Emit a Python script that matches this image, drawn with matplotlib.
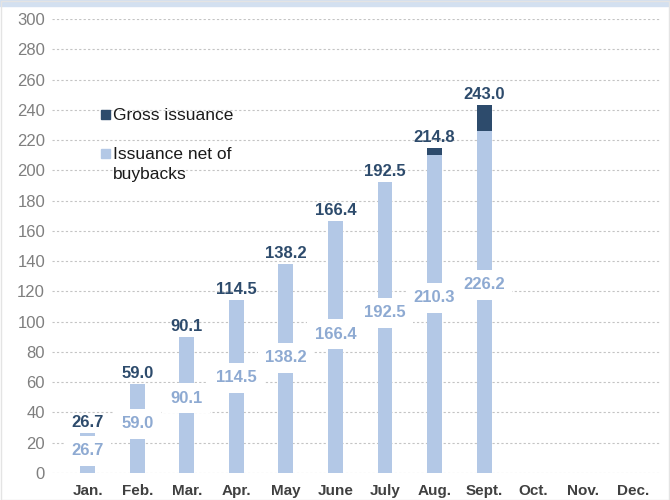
import matplotlib.pyplot as plt
import matplotlib.patches as mpatches

# ── Data ──────────────────────────────────────────────────────
months = ['Jan.', 'Feb.', 'Mar.', 'Apr.', 'May', 'June', 'July',
          'Aug.', 'Sept.', 'Oct.', 'Nov.', 'Dec.']
gross  = [26.7, 59.0, 90.1, 114.5, 138.2, 166.4, 192.5, 214.8, 243.0]
net    = [26.7, 59.0, 90.1, 114.5, 138.2, 166.4, 192.5, 210.3, 226.2]
yticks = list(range(0, 301, 20))

# ── Style ─────────────────────────────────────────────────────
plt.rcParams['font.family'] = ['Liberation Sans', 'DejaVu Sans']
DARK   = '#2d4b6c'
LIGHT  = '#b3c8e6'
LIGHT_TXT = '#8eaad2'
GRID   = '#c4c4c4'
W, H = 670, 500

fig = plt.figure(figsize=(6.7, 5), dpi=100)
ax = fig.add_axes([52/W, 27/H, 608/W, 454/H])

# top band and faint frame
fig.patches.append(mpatches.Rectangle((0, 1 - 6/H), 1, 6/H,
                   transform=fig.transFigure, color='#d3e0f0', zorder=0))
fig.patches.append(mpatches.Rectangle((0.001, 0.001), 0.998, 0.998,
                   transform=fig.transFigure, fill=False,
                   edgecolor='#e4e4e4', linewidth=1, zorder=0))

x = list(range(len(months)))
xb = x[:len(gross)]
extra = [g - n for g, n in zip(gross, net)]

ax.bar(xb, net, width=0.3, color=LIGHT, zorder=2)
ax.bar(xb, extra, bottom=net, width=0.3, color=DARK, zorder=2)

for xi, g, n in zip(xb, gross, net):
    ax.text(xi, g + 2, f'{g:.1f}', ha='center', va='bottom',
            fontsize=12, fontweight='bold', color=DARK, zorder=4)
    ax.text(xi, n * 0.55, f'{n:.1f}', ha='center', va='center',
            fontsize=12, fontweight='bold', color=LIGHT_TXT, zorder=4,
            bbox=dict(boxstyle='square,pad=0.45', facecolor='white',
                      edgecolor='none'))

ax.set_ylim(0, 300)
ax.set_xlim(-0.72, 11.55)
ax.set_yticks(yticks)
ax.set_xticks(x)
ax.set_xticklabels(months, fontsize=11, fontweight='bold', color='#404040')
ax.tick_params(axis='y', labelsize=12, colors='#7f7f7f', length=0, pad=5)
ax.tick_params(axis='x', length=0, pad=8)
ax.yaxis.grid(True, color=GRID, linestyle=(0, (2, 2)), linewidth=0.8, zorder=0)
ax.set_axisbelow(True)
for s in ax.spines.values():
    s.set_visible(False)

# ── Legend (drawn by hand so the square sits on the first line) ──
legend_items = [('Gross issuance', DARK, 114),
                ('Issuance net of\nbuybacks', LIGHT, 153)]
for label, col, yc in legend_items:
    fig.patches.append(mpatches.Rectangle((101/W, 1 - (yc + 4.5)/H), 9/W, 9/H,
                       transform=fig.transFigure, color=col, zorder=3))
    fig.text(113/W, 1 - (yc - 5.5)/H, label, ha='left', va='top',
             fontsize=12.5, color='#1a1a1a', linespacing=1.35)

fig.savefig('out.png', dpi=100, facecolor='white')
